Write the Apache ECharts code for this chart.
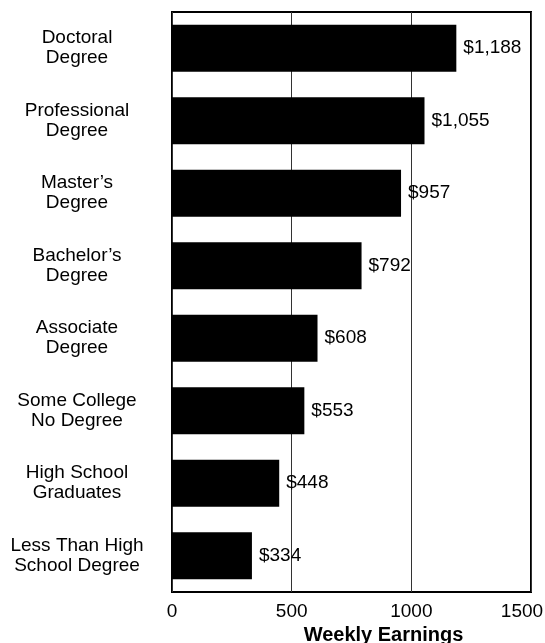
<!DOCTYPE html>
<html>
<head>
<meta charset="utf-8">
<script src="https://cdn.jsdelivr.net/npm/echarts@6/dist/echarts.min.js"></script>
<style>html,body{margin:0;padding:0;background:#fff}#c{width:545px;height:643px}</style>
</head>
<body>
<div id="c"></div>
<script>
var categories = ["Doctoral\nDegree", "Professional\nDegree", "Master\u2019s\nDegree", "Bachelor\u2019s\nDegree", "Associate\nDegree", "Some College\nNo Degree", "High School\nGraduates", "Less Than High\nSchool Degree"];
var earnings = [1188, 1055, 957, 792, 608, 553, 448, 334];
var tickValues = [0, 500, 1000, 1500];

var FONT = '"Liberation Sans", Arial, Helvetica, sans-serif';
var chart = echarts.init(document.getElementById('c'), null, {renderer: 'canvas'});
chart.setOption({
  animation: false,
  backgroundColor: '#fff',
  title: {
    text: 'Weekly Earnings',
    left: 223,
    top: -26,
    textStyle: {fontFamily: FONT, fontSize: 20, fontWeight: 'bold', color: '#000'}
  },
  grid: {
    left: 172, right: 14, top: 12, bottom: 51,
    outerBoundsMode: 'none',
    containLabel: false,
    show: true, borderColor: '#000', borderWidth: 2, backgroundColor: 'transparent'
  },
  xAxis: {
    type: 'value',
    min: tickValues[0],
    max: tickValues[tickValues.length - 1],
    interval: 500,
    axisLine: {show: false},
    axisTick: {show: false},
    axisLabel: {
      margin: 10, color: '#000', fontFamily: FONT, fontSize: 19,
      hideOverlap: false,
      formatter: function (v) {
        if (tickValues.indexOf(v) < 0) return '';
        return v === tickValues[tickValues.length - 1] ? '{m|' + v + '}' : String(v);
      },
      rich: {m: {fontFamily: FONT, fontSize: 19, color: '#000', padding: [0, 18, 0, 0]}}
    },
    splitLine: {show: true, lineStyle: {color: '#333', width: 1}},
    name: 'Weekly Earnings',
    nameLocation: 'middle',
    nameGap: 25,
    nameTextStyle: {fontFamily: FONT, fontSize: 20, fontWeight: 'bold', color: '#000', padding: [0, 0, 0, 64]}
  },
  yAxis: {
    type: 'category',
    data: categories,
    inverse: true,
    axisLine: {show: false},
    axisTick: {show: false},
    splitLine: {show: false},
    axisLabel: {
      margin: 95, align: 'center', color: '#000', fontFamily: FONT, fontSize: 19, lineHeight: 20
    }
  },
  series: [{
    type: 'bar',
    data: earnings,
    barWidth: 47,
    itemStyle: {color: '#000'},
    label: {
      show: true, position: 'right', distance: 7, color: '#000',
      fontFamily: FONT, fontSize: 19,
      formatter: function (p) { return '$' + p.value.toLocaleString('en-US'); }
    }
  }]
});
</script>
</body>
</html>
